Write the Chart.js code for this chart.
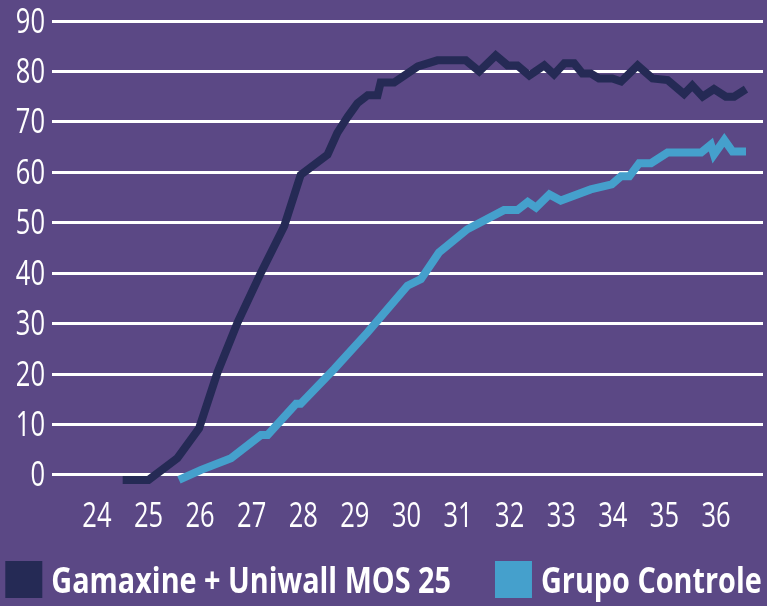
<!DOCTYPE html>
<html>
<head>
<meta charset="utf-8">
<script src="https://cdn.jsdelivr.net/npm/chart.js@4.4.1/dist/chart.umd.min.js"></script>
<style>
  html, body { margin: 0; padding: 0; background: #5b4885; }
  canvas { display: block; }
</style>
</head>
<body>
<canvas id="grafico" width="767" height="606"></canvas>
<script>
// dados (semana x valor)
const gamaxineX = [24.5, 25.0, 25.56, 25.98, 26.34, 26.73, 27.18, 27.63, 27.95, 28.47, 28.66, 28.86, 29.05, 29.25, 29.44, 29.5, 29.76, 30.22, 30.6, 31.15, 31.41, 31.73, 31.96, 32.15, 32.38, 32.67, 32.86, 33.06, 33.25, 33.41, 33.57, 33.73, 33.99, 34.16, 34.48, 34.77, 35.06, 35.38, 35.54, 35.74, 35.96, 36.19, 36.35, 36.58];
const gamaxineY = [-1, -1, 3.3, 9.2, 20.4, 30.3, 40.1, 49.3, 59.5, 63.5, 67.8, 71, 73.7, 75.3, 75.3, 77.8, 77.8, 81, 82.2, 82.2, 80, 83.2, 81.2, 81.2, 79.2, 81.2, 79.4, 81.6, 81.6, 79.6, 79.6, 78.6, 78.6, 78, 81.2, 78.6, 78.3, 75.5, 77.2, 75, 76.5, 75, 75, 76.5];

const controleX = [25.59, 26.02, 26.6, 27.18, 27.31, 27.86, 27.95, 28.6, 29.25, 30.02, 30.28, 30.63, 31.18, 31.89, 32.15, 32.35, 32.51, 32.77, 32.99, 33.57, 33.98, 34.16, 34.32, 34.51, 34.74, 35.06, 35.71, 35.9, 35.96, 36.16, 36.32, 36.58];
const controleY = [-1, 1, 3.3, 7.9, 7.9, 14.1, 14.1, 21, 28.3, 37.5, 38.8, 44.1, 48.7, 52.5, 52.5, 54.1, 53, 55.6, 54.4, 56.6, 57.6, 59.2, 59.2, 61.8, 61.8, 63.9, 63.9, 65.5, 63.5, 66.4, 64.1, 64.1];

const ticksX = [24, 25, 26, 27, 28, 29, 30, 31, 32, 33, 34, 35, 36];
const ticksY = [0, 10, 20, 30, 40, 50, 60, 70, 80, 90];

const nomes = ['Gamaxine + Uniwall MOS 25', 'Grupo Controle'];
const cores = ['#252a55', '#45a0cc'];

function pontos(xs, ys) {
  return xs.map((x, i) => ({ x: x, y: ys[i] }));
}

// não há fonte condensada instalada, então o texto é "apertado" na horizontal
function textoCondensado(ctx, texto, x, y, escala, alinhamento) {
  ctx.save();
  ctx.translate(x, y);
  ctx.scale(escala, 1);
  ctx.textAlign = alinhamento;
  ctx.textBaseline = 'alphabetic';
  ctx.fillText(texto, 0, 0);
  ctx.restore();
}

// rótulos dos eixos e legenda
const textosPlugin = {
  id: 'textosCondensados',
  afterDraw(chart) {
    const ctx = chart.ctx;
    const area = chart.chartArea;
    ctx.save();
    ctx.fillStyle = '#ffffff';

    // eixo Y
    ctx.font = '34px "Open Sans", "Noto Sans", sans-serif';
    chart.scales.y.ticks.forEach(t => {
      const py = chart.scales.y.getPixelForValue(t.value);
      textoCondensado(ctx, String(t.value), area.left - 7, py + 11.5, 0.75, 'right');
    });
    // eixo X
    chart.scales.x.ticks.forEach(t => {
      const px = chart.scales.x.getPixelForValue(t.value);
      textoCondensado(ctx, String(t.value), px, area.bottom + 37, 0.75, 'center');
    });

    // legenda
    ctx.font = 'bold 36px "Open Sans", "Noto Sans", sans-serif';
    const escala = 0.8;
    const caixa = 37, gapTexto = 9, gapItem = 44;
    const larguras = chart.data.datasets.map(ds => caixa + gapTexto + ctx.measureText(ds.label).width * escala);
    const total = larguras.reduce((a, b) => a + b, 0) + gapItem * (larguras.length - 1);
    let x = (chart.width - total) / 2;
    chart.data.datasets.forEach((ds, i) => {
      ctx.fillStyle = ds.borderColor;
      ctx.fillRect(x, 561, caixa, caixa);
      ctx.fillStyle = '#ffffff';
      textoCondensado(ctx, ds.label, x + caixa + gapTexto, 593, escala, 'left');
      x += larguras[i] + gapItem;
    });
    ctx.restore();
  }
};

const ctx = document.getElementById('grafico').getContext('2d');
const grafico = new Chart(ctx, {
  type: 'line',
  data: {
    datasets: [
      { label: nomes[0], data: pontos(gamaxineX, gamaxineY), borderColor: cores[0], backgroundColor: cores[0], borderWidth: 8 },
      { label: nomes[1], data: pontos(controleX, controleY), borderColor: cores[1], backgroundColor: cores[1], borderWidth: 8 }
    ]
  },
  options: {
    responsive: false,
    animation: false,
    layout: { padding: { top: 21, right: 4, left: 0, bottom: 56 } },
    elements: {
      line: { tension: 0, fill: false },
      point: { radius: 0, hoverRadius: 0 }
    },
    plugins: {
      legend: { display: false },
      tooltip: { enabled: false }
    },
    scales: {
      x: {
        type: 'linear',
        min: 23.13,
        max: 36.91,
        afterBuildTicks: s => { s.ticks = ticksX.map(v => ({ value: v })); },
        afterFit: s => { s.height = 60; },
        grid: { display: false },
        border: { display: false },
        ticks: { display: false }
      },
      y: {
        min: -3,
        max: 90,
        afterBuildTicks: s => { s.ticks = ticksY.map(v => ({ value: v })); },
        afterFit: s => { s.width = 52; },
        grid: { color: '#ffffff', lineWidth: 3, drawTicks: false },
        border: { display: false },
        ticks: { display: false }
      }
    }
  },
  plugins: [textosPlugin]
});
</script>
</body>
</html>
